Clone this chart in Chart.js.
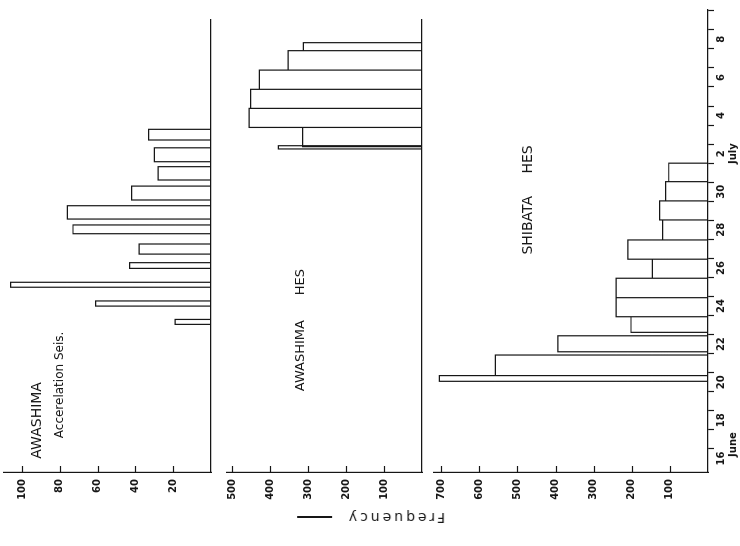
<!DOCTYPE html>
<html>
<head>
<meta charset="utf-8">
<title>Awashima / Shibata - daily frequency</title>
<script src="https://cdn.jsdelivr.net/npm/chart.js@4.4.1/dist/chart.umd.min.js"></script>
<style>
    html, body { margin: 0; padding: 0; background: #fff; overflow: hidden; }
    body { width: 740px; height: 546px; position: relative; }
    /* figure is drawn upright, then turned a quarter left like the scan */
    #fig { position: absolute; left: 97px; top: -97px; width: 546px; height: 740px;
           transform: rotate(-90deg); background: #fff; }
    .panel { position: absolute; left: 0; width: 546px; }
    #freqTitle { position: absolute; left: 28px; top: 371px; white-space: nowrap;
                 transform: translate(-50%, -50%) rotate(-90deg);
                 font: 14px 'DejaVu Sans', sans-serif; letter-spacing: 3px; color: #161616; }
    #freqTitle span { display: inline-block; width: 35px; border-top: 2px solid #161616;
                      margin-left: 14px; vertical-align: middle; }
</style>
</head>
<body>
<div id="fig">
    <div class="panel" style="top:0;height:216px"><canvas id="chartAccel" width="546" height="216"></canvas></div>
    <div class="panel" style="top:216px;height:214px"><canvas id="chartAwaHes" width="546" height="214"></canvas></div>
    <div class="panel" style="top:430px;height:310px"><canvas id="chartShibata" width="546" height="310"></canvas></div>
    <div id="freqTitle">Frequency<span></span></div>
</div>
<script>
// ============== DATA ==============
// x = days counted from 0h, 16 June (1 unit = 1 day)

const dateLabels = [['16', '        June'], '18', '20', '22', '24', '26', '28', '30', ['2', 'July'], '4', '6', '8'];
const dateLabelDays = [0, 2, 4, 6, 8, 10, 12, 14, 16, 18, 20, 22];
const dayTicks = [1, 2, 3, 4, 5, 6, 7, 8, 9, 10, 11, 12, 13, 14, 15, 16, 17, 18, 19, 20, 21, 22, 23, 24];

// AWASHIMA acceleration seismograph
const accelStart = [7.54, 8.50, 9.49, 10.48, 11.23, 12.30, 13.07, 14.07, 15.12, 16.08, 17.22];
const accelEnd   = [7.80, 8.77, 9.75, 10.78, 11.76, 12.76, 13.77, 14.80, 15.82, 16.81, 17.78];
const accelCount = [19, 61, 106, 43, 38, 73, 76, 42, 28, 30, 33];
const accelTicks = [20, 40, 60, 80, 100];

// AWASHIMA HES
const awaStart = [16.75, 16.87, 17.88, 18.88, 19.88, 20.89, 21.91];
const awaEnd   = [16.92, 17.88, 18.88, 19.88, 20.89, 21.91, 22.33];
const awaCount = [378, 314, 455, 451, 428, 352, 312];
const awaTicks = [100, 200, 300, 400, 500];

// SHIBATA HES
const shiStart = [4.55, 4.85, 6.10, 7.12, 7.94, 8.94, 9.96, 10.96, 11.97, 13.02, 14.02, 15.03];
const shiEnd   = [4.85, 5.93, 6.94, 7.94, 8.94, 9.96, 10.96, 11.97, 13.02, 14.02, 15.03, 16.00];
const shiCount = [705, 558, 394, 202, 241, 241, 146, 210, 119, 127, 111, 103];
const shiTicks = [100, 200, 300, 400, 500, 600, 700];

// ============== STYLE ==============

const INK = '#161616';
const FONT = "'DejaVu Sans', sans-serif";
const X_MIN = -0.21;

/**
 * Outline of each histogram bar as one broken line
 */
function buildOutline(starts, ends, counts) {
    const pts = [];
    starts.forEach((s, i) => {
        pts.push({ x: s, y: 0 }, { x: s, y: counts[i] }, { x: ends[i], y: counts[i] },
                 { x: ends[i], y: 0 }, { x: ends[i], y: null });
    });
    return pts;
}

// tick marks on the frequency axis point into the panel
const innerTicks = {
    id: 'innerTicks',
    afterDatasetsDraw(chart) {
        const y = chart.scales.y;
        const left = chart.chartArea.left;
        const ctx = chart.ctx;
        ctx.save();
        ctx.strokeStyle = INK;
        ctx.lineWidth = 1.2;
        y.ticks.forEach(t => {
            const py = Math.round(y.getPixelForValue(t.value)) + 0.5;
            ctx.beginPath();
            ctx.moveTo(left, py);
            ctx.lineTo(left + 6, py);
            ctx.stroke();
        });
        ctx.restore();
    }
};

// panel captions, anchored at (day, count)
const panelText = {
    id: 'panelText',
    afterDraw(chart, args, opts) {
        const ctx = chart.ctx;
        const { x, y } = chart.scales;
        (opts.items || []).forEach(it => {
            ctx.save();
            ctx.font = it.font;
            ctx.fillStyle = INK;
            ctx.textAlign = 'center';
            ctx.textBaseline = 'middle';
            ctx.fillText(it.text, x.getPixelForValue(it.day), y.getPixelForValue(it.count));
            ctx.restore();
        });
    }
};

function bareDateAxis(xMax) {
    return {
        type: 'linear', min: X_MIN, max: xMax,
        ticks: { display: false },
        grid: { drawOnChartArea: false, drawTicks: false },
        border: { display: true, color: INK, width: 1.2 },
        afterFit: s => { s.height = 0; s.paddingLeft = 0; s.paddingRight = 0; }
    };
}

function dateAxis(xMax) {
    return {
        type: 'linear', min: X_MIN, max: xMax,
        afterBuildTicks: s => {
            const vals = dayTicks.concat(dateLabelDays.map(d => d + 0.5)).sort((a, b) => a - b);
            s.ticks = vals.map(v => ({ value: v }));
        },
        ticks: {
            autoSkip: false, maxRotation: 0, minRotation: 0, padding: 1,
            color: INK, font: { family: FONT, size: 10, weight: 'bold' },
            callback: function (value) {
                const i = dateLabelDays.indexOf(value - 0.5);
                return i >= 0 ? dateLabels[i] : '';
            }
        },
        grid: {
            drawOnChartArea: false, drawTicks: true, tickLength: 6, tickWidth: 1.2,
            color: INK,
            tickColor: c => Number.isInteger(c.tick.value) ? INK : 'rgba(0,0,0,0)'
        },
        border: { display: true, color: INK, width: 1.2 },
        afterFit: s => { s.height = 32; s.paddingLeft = 0; s.paddingRight = 0; }
    };
}

/**
 * One panel of the figure
 */
function initPanel(canvasId, cfg) {
    const canvas = document.getElementById(canvasId);
    return new Chart(canvas.getContext('2d'), {
        type: 'line',
        data: {
            datasets: [{
                data: buildOutline(cfg.starts, cfg.ends, cfg.counts),
                borderColor: INK,
                borderWidth: 1.2,
                pointRadius: 0,
                fill: false,
                tension: 0,
                spanGaps: false
            }]
        },
        options: {
            responsive: false,
            animation: false,
            layout: { padding: cfg.padding },
            plugins: {
                legend: { display: false },
                tooltip: { enabled: false },
                panelText: { items: cfg.texts }
            },
            scales: {
                x: cfg.showDates ? dateAxis(cfg.xMax) : bareDateAxis(cfg.xMax),
                y: {
                    type: 'linear', min: 0, max: cfg.yMax,
                    afterBuildTicks: s => { s.ticks = cfg.ticks.map(v => ({ value: v })); },
                    afterFit: s => { s.width = 74; s.paddingTop = 0; s.paddingBottom = 0; },
                    ticks: { padding: 7, color: INK, font: { family: FONT, size: 10, weight: 'bold' } },
                    grid: { drawOnChartArea: false, drawTicks: false },
                    border: { display: true, color: INK, width: 1.2 }
                }
            }
        },
        plugins: [innerTicks, panelText]
    });
}

// ============== INITIALIZATION ==============

initPanel('chartAccel', {
    starts: accelStart, ends: accelEnd, counts: accelCount, ticks: accelTicks,
    yMax: 109.5, xMax: 23.52, showDates: false,
    padding: { top: 4, bottom: 5, right: 20, left: 0 },
    texts: [
        { text: 'AWASHIMA', day: 2.5, count: 92, font: '14px ' + FONT },
        { text: 'Accerelation Seis.', day: 4.36, count: 80, font: '12px ' + FONT }
    ]
});

initPanel('chartAwaHes', {
    starts: awaStart, ends: awaEnd, counts: awaCount, ticks: awaTicks,
    yMax: 513, xMax: 23.52, showDates: false,
    padding: { top: 11, bottom: 8, right: 20, left: 0 },
    texts: [
        { text: 'AWASHIMA      HES', day: 7.24, count: 318, font: '13px ' + FONT }
    ]
});

initPanel('chartShibata', {
    starts: shiStart, ends: shiEnd, counts: shiCount, ticks: shiTicks,
    yMax: 719, xMax: 24.04, showDates: true,
    padding: { top: 4, bottom: 0, right: 10, left: 0 },
    texts: [
        { text: 'SHIBATA     HES', day: 14.07, count: 471, font: '14px ' + FONT }
    ]
});
</script>
</body>
</html>
